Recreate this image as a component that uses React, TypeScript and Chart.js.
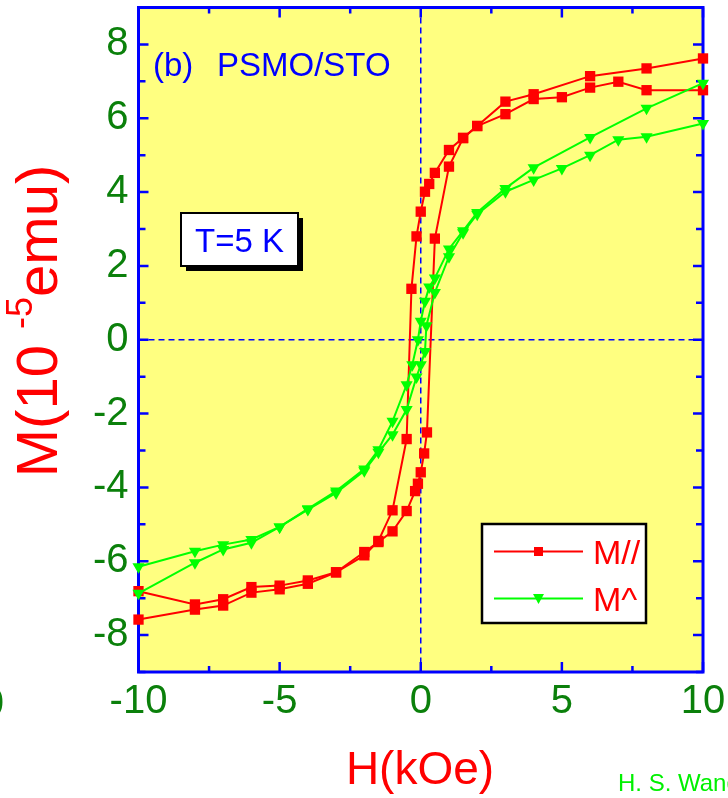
import React, { useEffect, useRef } from "react";
import { Chart, registerables } from "chart.js";

Chart.register(...registerables);

// Field sweeps in kOe and magnetisation in 10^-5 emu.
// M// : field parallel to the film plane
const H_DOWN_PAR = [10, 8, 6, 4, 3, 2, 1.5, 1, 0.5, 0.3, 0.15, 0, -0.15, -0.33, -0.5, -1, -1.5, -2, -3, -4, -5, -6, -7, -8, -10];
const M_DOWN_PAR = [7.62, 7.35, 7.14, 6.65, 6.45, 5.79, 5.47, 5.14, 4.52, 4.22, 4.01, 3.47, 2.8, 1.38, -2.69, -4.62, -5.45, -5.84, -6.3, -6.52, -6.66, -6.7, -7.03, -7.17, -6.81];
const H_UP_PAR = [-10, -8, -7, -6, -5, -4, -3, -2, -1.5, -1, -0.5, -0.2, -0.1, 0, 0.12, 0.22, 0.5, 1, 1.5, 2, 3, 4, 5, 6, 7, 8, 10];
const M_UP_PAR = [-7.58, -7.31, -7.2, -6.85, -6.76, -6.61, -6.3, -5.75, -5.48, -5.19, -4.64, -4.1, -3.9, -3.59, -3.08, -2.51, 2.74, 4.69, 5.46, 5.79, 6.11, 6.52, 6.57, 6.83, 6.99, 6.76, 6.76];

// M^ : field perpendicular to the film plane
const H_DOWN_PERP = [10, 8, 6, 4, 3, 2, 1.5, 1, 0.5, 0.3, 0.15, 0, -0.1, -0.3, -0.5, -1, -1.5, -2, -3, -4, -5, -6, -7, -8, -10];
const M_DOWN_PERP = [6.95, 6.27, 5.48, 4.66, 4.1, 3.45, 2.95, 2.46, 1.67, 1.43, 1.04, 0.5, 0.0, -0.68, -1.22, -2.21, -2.98, -3.5, -4.1, -4.58, -5.07, -5.41, -5.55, -5.73, -6.15];
const H_UP_PERP = [-10, -8, -7, -6, -5, -4, -3, -2, -1.5, -1, -0.5, -0.15, 0, 0.15, 0.2, 0.5, 1, 1.5, 2, 3, 4, 5, 6, 7, 8, 10];
const M_UP_PERP = [-6.87, -6.04, -5.68, -5.5, -5.07, -4.6, -4.15, -3.55, -3.05, -2.57, -1.89, -1.01, -0.68, -0.32, 0.38, 1.28, 2.25, 2.9, 3.4, 4.01, 4.33, 4.64, 5.0, 5.42, 5.5, 5.86];

const X_TICKS = [-10, -5, 0, 5, 10];
const X_MINOR = [-7.5, -2.5, 2.5, 7.5];
const Y_TICKS = [-8, -6, -4, -2, 0, 2, 4, 6, 8];
const Y_MINOR = [-9, -7, -5, -3, -1, 1, 3, 5, 7, 9];

const FONT = '"Liberation Sans", Arial, Helvetica, sans-serif';
const RED = "#ff0000";
const GREEN = "#00ff00";
const TICK_GREEN = "#0b800b";
const BLUE = "#0000ff";
const PLOT_BG = "#ffff80";

const toPoints = (xs: number[], ys: number[]) => xs.map((x, i) => ({ x, y: ys[i] }));

function drawSquare(ctx: CanvasRenderingContext2D, x: number, y: number, s: number) {
  ctx.fillRect(x - s / 2, y - s / 2, s, s);
}
function drawDownTriangle(ctx: CanvasRenderingContext2D, x: number, y: number, w: number) {
  ctx.beginPath();
  ctx.moveTo(x - w / 2, y - w * 0.4);
  ctx.lineTo(x + w / 2, y - w * 0.4);
  ctx.lineTo(x, y + w * 0.5);
  ctx.closePath();
  ctx.fill();
}

const decorations = {
  id: "decorations",
  beforeDraw(chart: any) {
    const { ctx, chartArea: a } = chart;
    ctx.save();
    ctx.fillStyle = "#ffffff";
    ctx.fillRect(0, 0, chart.width, chart.height);
    ctx.fillStyle = PLOT_BG;
    ctx.fillRect(a.left, a.top, a.right - a.left, a.bottom - a.top);
    ctx.restore();
  },
  beforeDatasetsDraw(chart: any) {
    const { ctx, chartArea: a, scales } = chart;
    const xs = scales.x;
    const ys = scales.y;
    ctx.save();
    // zero lines
    ctx.strokeStyle = BLUE;
    ctx.lineWidth = 1.5;
    ctx.setLineDash([6, 4]);
    const x0 = xs.getPixelForValue(0);
    const y0 = ys.getPixelForValue(0);
    ctx.beginPath();
    ctx.moveTo(x0, a.top);
    ctx.lineTo(x0, a.bottom);
    ctx.moveTo(a.left, y0);
    ctx.lineTo(a.right, y0);
    ctx.stroke();
    ctx.setLineDash([]);

    // inward tick marks on all four sides
    ctx.lineWidth = 2.5;
    ctx.beginPath();
    const xTick = (v: number, len: number) => {
      const p = xs.getPixelForValue(v);
      ctx.moveTo(p, a.bottom);
      ctx.lineTo(p, a.bottom - len);
      ctx.moveTo(p, a.top);
      ctx.lineTo(p, a.top + len);
    };
    const yTick = (v: number, len: number) => {
      const p = ys.getPixelForValue(v);
      ctx.moveTo(a.left, p);
      ctx.lineTo(a.left + len, p);
      ctx.moveTo(a.right, p);
      ctx.lineTo(a.right - len, p);
    };
    X_TICKS.forEach((v) => xTick(v, 10));
    X_MINOR.forEach((v) => xTick(v, 6));
    Y_TICKS.forEach((v) => yTick(v, 10));
    Y_MINOR.forEach((v) => yTick(v, 7));
    ctx.stroke();

    // frame
    ctx.lineWidth = 3;
    ctx.strokeRect(a.left, a.top, a.right - a.left, a.bottom - a.top);
    ctx.restore();
  },
  afterDatasetsDraw(chart: any) {
    const { ctx } = chart;
    ctx.save();

    // panel caption
    ctx.fillStyle = BLUE;
    ctx.font = `33px ${FONT}`;
    ctx.textBaseline = "alphabetic";
    ctx.textAlign = "left";
    ctx.fillText("(b)", 153, 76);
    ctx.fillText("PSMO/STO", 217, 76);

    // temperature box with drop shadow
    ctx.fillStyle = "#000000";
    ctx.fillRect(186, 218, 117, 53);
    ctx.fillStyle = "#ffffff";
    ctx.fillRect(181, 213, 117, 53);
    ctx.strokeStyle = "#000000";
    ctx.lineWidth = 2;
    ctx.strokeRect(181, 213, 117, 53);
    ctx.fillStyle = BLUE;
    ctx.font = `33px ${FONT}`;
    ctx.textAlign = "center";
    ctx.fillText("T=5 K", 239.5, 252);

    // legend
    ctx.fillStyle = "#ffffff";
    ctx.fillRect(482, 524, 164, 99);
    ctx.lineWidth = 2.5;
    ctx.strokeStyle = "#000000";
    ctx.strokeRect(482, 524, 164, 99);
    const rows = [
      { label: "M//", color: RED, y: 551.5, shape: "square" },
      { label: "M^", color: GREEN, y: 598.5, shape: "triangle" },
    ];
    rows.forEach((r) => {
      ctx.strokeStyle = r.color;
      ctx.lineWidth = 1.8;
      ctx.beginPath();
      ctx.moveTo(494, r.y);
      ctx.lineTo(583, r.y);
      ctx.stroke();
      ctx.fillStyle = r.color;
      if (r.shape === "square") drawSquare(ctx, 538.5, r.y, 9);
      else drawDownTriangle(ctx, 538.5, r.y, 11);
      ctx.fillStyle = RED;
      ctx.font = `34px ${FONT}`;
      ctx.textAlign = "left";
      ctx.fillText(r.label, 593, r.y + 12.5);
    });
    ctx.restore();
  },
  afterDraw(chart: any) {
    const { ctx } = chart;
    ctx.save();
    ctx.fillStyle = RED;
    ctx.textBaseline = "alphabetic";

    // x title
    ctx.font = `46px ${FONT}`;
    ctx.textAlign = "center";
    ctx.fillText("H(kOe)", 420, 784);

    // y title with superscript exponent
    ctx.translate(57, 0);
    ctx.rotate(-Math.PI / 2);
    const big = `58px ${FONT}`;
    const small = `36px ${FONT}`;
    ctx.textAlign = "left";
    ctx.font = big;
    const p1 = "M(10 ";
    const p3 = "emu)";
    const w1 = ctx.measureText(p1).width;
    const w3 = ctx.measureText(p3).width;
    ctx.font = small;
    const p2 = "-5";
    const w2 = ctx.measureText(p2).width;
    const total = w1 + w2 + w3;
    let x = -321 - total / 2;
    ctx.font = big;
    ctx.fillText(p1, x, 0);
    x += w1;
    ctx.font = small;
    ctx.fillText(p2, x, -25);
    x += w2;
    ctx.font = big;
    ctx.fillText(p3, x, 0);
    ctx.setTransform(1, 0, 0, 1, 0, 0);

    // credit line, running off the right edge
    ctx.fillStyle = "#00f000";
    ctx.font = `24px ${FONT}`;
    ctx.textAlign = "left";
    ctx.fillText("H. S. Wang", 618, 791);

    // partial tick label from the neighbouring panel
    ctx.fillStyle = TICK_GREEN;
    ctx.font = `40px ${FONT}`;
    ctx.textAlign = "right";
    ctx.fillText("0", 4, 716);
    ctx.restore();
  },
};

export default function App() {
  const canvasRef = useRef<HTMLCanvasElement | null>(null);

  useEffect(() => {
    if (!canvasRef.current) return;
    const lineStyle = (color: string, shape: string, radius: number, rotation: number) => ({
      showLine: true,
      borderColor: color,
      backgroundColor: color,
      borderWidth: 2,
      pointStyle: shape,
      pointRadius: radius,
      pointRotation: rotation,
      pointBorderWidth: 0,
      tension: 0,
      clip: false as any,
    });
    const chart = new Chart(canvasRef.current, {
      type: "scatter",
      data: {
        datasets: [
          { label: "M^", data: toPoints(H_DOWN_PERP, M_DOWN_PERP), ...lineStyle(GREEN, "triangle", 7, 180) },
          { label: "M^ ", data: toPoints(H_UP_PERP, M_UP_PERP), ...lineStyle(GREEN, "triangle", 7, 180) },
          { label: "M//", data: toPoints(H_DOWN_PAR, M_DOWN_PAR), ...lineStyle(RED, "rect", 7.3, 0) },
          { label: "M// ", data: toPoints(H_UP_PAR, M_UP_PAR), ...lineStyle(RED, "rect", 7.3, 0) },
        ],
      },
      options: {
        animation: false,
        responsive: false,
        devicePixelRatio: 1,
        layout: { padding: { top: 7.5, right: 25, bottom: 0, left: 0 } },
        plugins: { legend: { display: false }, tooltip: { enabled: false }, title: { display: false } },
        scales: {
          x: {
            type: "linear",
            min: -10,
            max: 10,
            afterBuildTicks: (s: any) => {
              s.ticks = X_TICKS.map((v) => ({ value: v }));
            },
            afterFit: (s: any) => {
              s.height = 126;
              s.paddingLeft = 0;
              s.paddingRight = 0;
            },
            grid: { display: false, drawTicks: false },
            border: { display: false },
            ticks: {
              color: TICK_GREEN,
              font: { family: FONT, size: 40 },
              padding: 6,
              maxRotation: 0,
              autoSkip: false,
              callback: (v: any) => String(v),
            },
          },
          y: {
            type: "linear",
            min: -9,
            max: 9,
            afterBuildTicks: (s: any) => {
              s.ticks = Y_TICKS.map((v) => ({ value: v }));
            },
            afterFit: (s: any) => {
              s.width = 138.5;
              s.paddingTop = 0;
              s.paddingBottom = 0;
            },
            grid: { display: false, drawTicks: false },
            border: { display: false },
            ticks: {
              color: TICK_GREEN,
              font: { family: FONT, size: 40 },
              padding: 10,
              autoSkip: false,
              callback: (v: any) => String(v),
            },
          },
        },
      },
      plugins: [decorations],
    });
    return () => chart.destroy();
  }, []);

  return (
    <div style={{ position: "absolute", left: 0, top: 0, width: 728, height: 798 }}>
      <canvas ref={canvasRef} width={728} height={798} style={{ width: 728, height: 798, display: "block" }} />
    </div>
  );
}
